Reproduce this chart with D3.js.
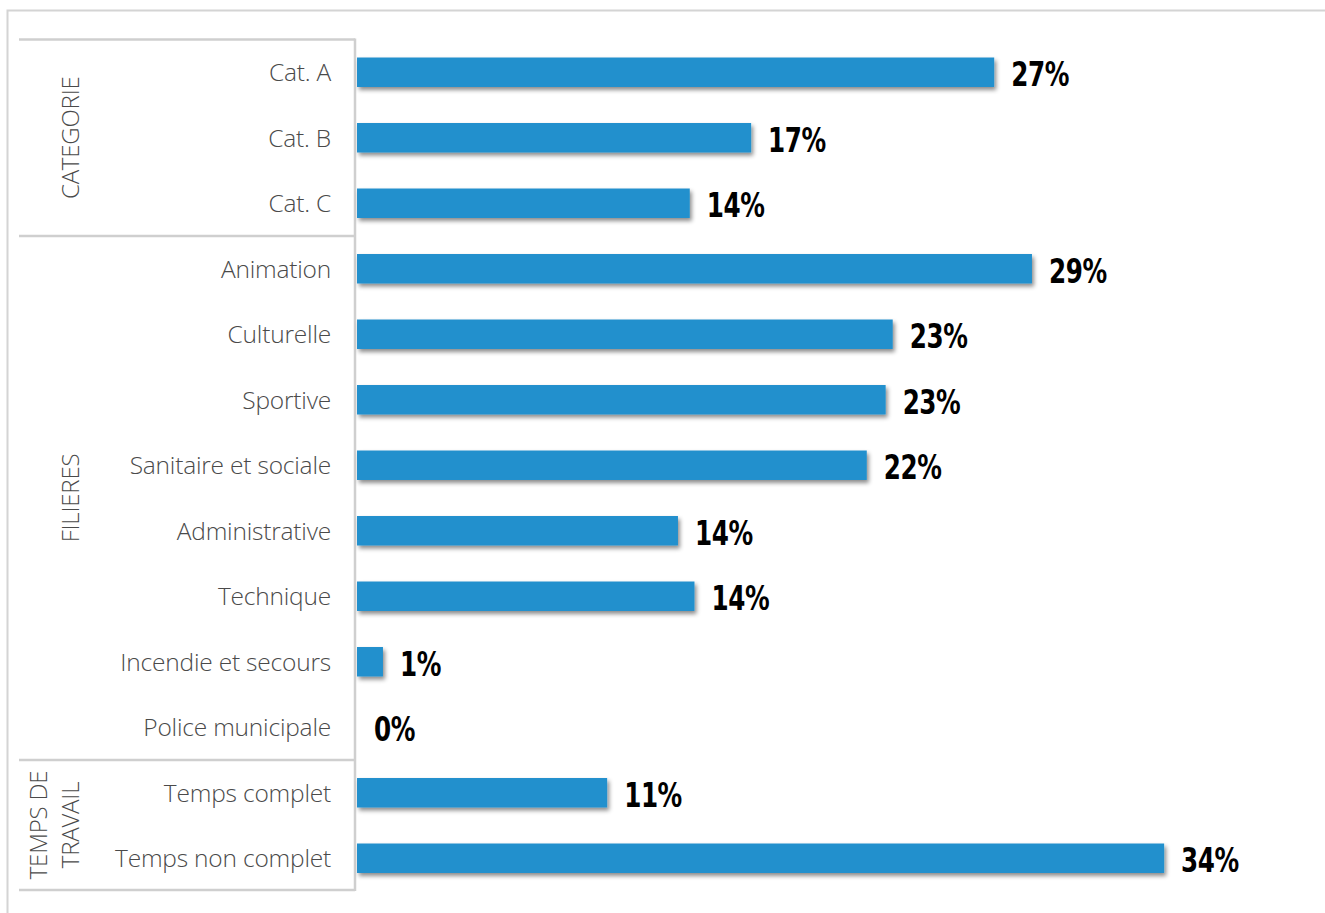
<!DOCTYPE html>
<html><head><meta charset="utf-8">
<script src="https://cdn.jsdelivr.net/npm/d3@7"></script>
<style>body{margin:0;background:#fff}svg{display:block}</style>
</head><body>
<script>
const categories = ["Cat. A","Cat. B","Cat. C","Animation","Culturelle","Sportive","Sanitaire et sociale","Administrative","Technique","Incendie et secours","Police municipale","Temps complet","Temps non complet"];
const values = [27.0,16.7,14.1,28.6,22.7,22.4,21.6,13.6,14.3,1.1,0,10.6,34.2];
const valueLabels = ["27%","17%","14%","29%","23%","23%","22%","14%","14%","1%","0%","11%","34%"];
const groups = [["CATEGORIE"],["FILIERES"],["TEMPS DE","TRAVAIL"]];
const groupStart = [0,3,11];
const groupEnd = [2,10,12];

const W=1325,H=913;
const svg=d3.select("body").append("svg").attr("width",W).attr("height",H);
const defs=svg.append("defs");
const f=defs.append("filter").attr("id","sh").attr("x","-10%").attr("y","-30%").attr("width","130%").attr("height","190%");
f.append("feDropShadow").attr("dx",2).attr("dy",3).attr("stdDeviation",2).attr("flood-color","#000").attr("flood-opacity",0.45);

// outer frame
svg.append("rect").attr("x",7.5).attr("y",10.5).attr("width",1340).attr("height",930).attr("fill","none").attr("stroke","#d4d4d4").attr("stroke-width",2);

const y=d3.scaleBand().domain(categories).range([39.5,891]).paddingInner(0.55).paddingOuter(0.275);
const x=d3.scaleLinear().domain([0,35]).range([357,357+35*23.6]);

// group frame lines
const lineC="#cfcfcf";
const bounds=[39.5];
groupStart.forEach((s,i)=>{ if(i>0) bounds.push((y(categories[groupEnd[i-1]])+y.bandwidth()+y(categories[s]))/2);});
bounds.push(890);
svg.selectAll("line.h").data(bounds).join("line").attr("class","h")
 .attr("x1",19).attr("x2",355).attr("y1",d=>d).attr("y2",d=>d).attr("stroke",lineC).attr("stroke-width",2.5);
svg.append("line").attr("x1",355).attr("x2",355).attr("y1",38.5).attr("y2",891).attr("stroke",lineC).attr("stroke-width",2.5);

// bars
svg.selectAll("rect.bar").data(categories).join("rect").attr("class","bar")
 .attr("x",x(0)).attr("y",d=>y(d)).attr("height",y.bandwidth())
 .attr("width",(d,i)=>x(values[i])-x(0)).attr("fill","#2290cd").attr("filter","url(#sh)");

// category labels
const catFont="'Open Sans', 'Noto Sans', sans-serif";
svg.selectAll("text.cat").data(categories).join("text").attr("class","cat")
 .attr("x",331).attr("y",d=>y(d)+y.bandwidth()/2).attr("dy","0.36em").attr("text-anchor","end")
 .attr("font-family",catFont).attr("font-weight",300).attr("font-size",24.5).attr("fill","#4a4a4a").attr("letter-spacing","-0.2")
 .text(d=>d);

// value labels (condensed bold)
svg.selectAll("text.val").data(categories).join("text").attr("class","val")
 .attr("transform",(d,i)=>`translate(${x(values[i])+17},${y(d)+y.bandwidth()/2+2}) scale(0.83,1)`)
 .attr("dy","0.36em")
 .attr("font-family","'DejaVu Sans Condensed','DejaVu Sans',sans-serif").attr("font-weight","bold")
 .attr("font-size",33).attr("fill","#000").attr("letter-spacing","-0.5")
 .text((d,i)=>valueLabels[i]);

// group labels
groups.forEach((g,i)=>{
  const cy=(bounds[i]+bounds[i+1])/2;
  const n=g.length;
  g.forEach((t,j)=>{
    const cx = n===1 ? 70 : 38 + j*32;
    svg.append("text").attr("transform",`translate(${cx},${cy}) rotate(-90)`)
     .attr("text-anchor","middle").attr("dy","0.36em")
     .attr("font-family",catFont).attr("font-weight",300).attr("font-size",24).attr("fill","#4a4a4a").attr("letter-spacing","-0.2")
     .text(t);
  });
});
</script>
</body></html>
